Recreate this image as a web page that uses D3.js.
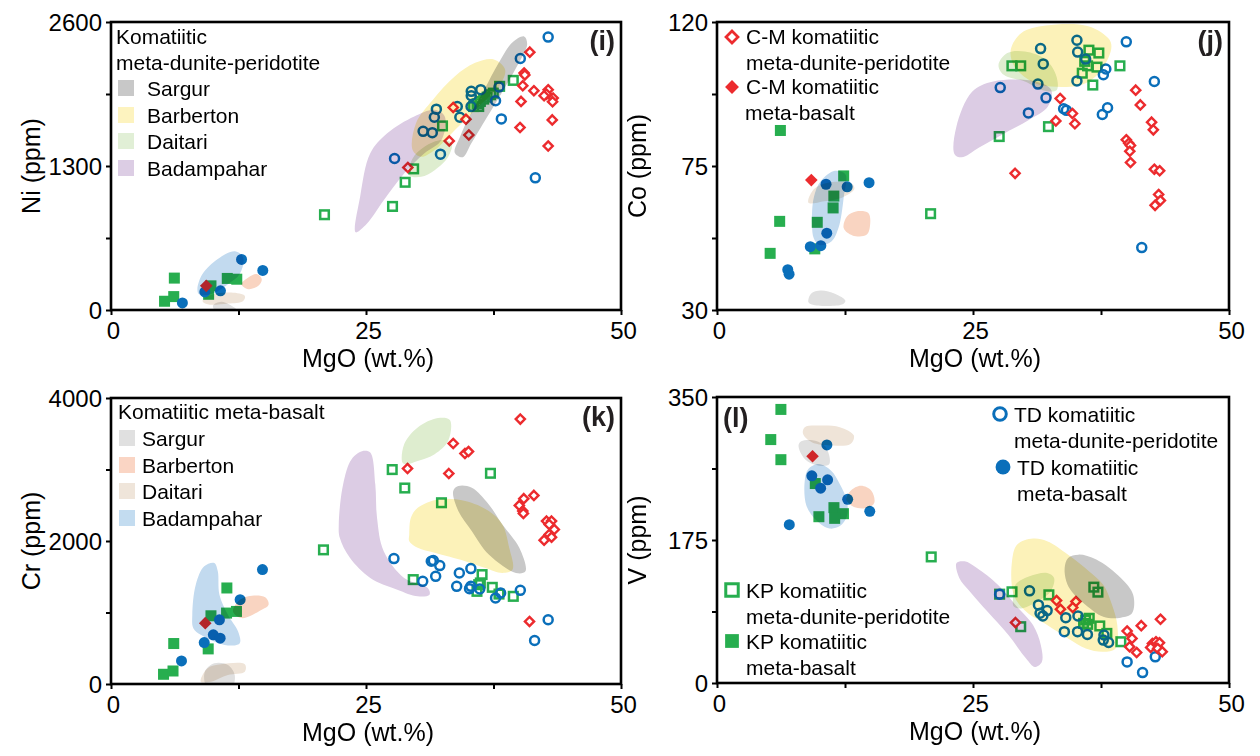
<!DOCTYPE html>
<html><head><meta charset="utf-8">
<script src="https://cdn.jsdelivr.net/npm/d3@7"></script>
<style>
body{margin:0;background:#fff}
svg{display:block}
text{font-family:Arial,"Liberation Sans",Helvetica,sans-serif;fill:#000}
</style>
</head><body>
<svg id="chart" width="1260" height="756"></svg>
<script>
// ---------------- DATA ----------------
const mgoTicks = [0, 12.5, 25, 37.5, 50];
const mgoLabels = ["0", "", "25", "", "50"];
const niTicks = [0, 650, 1300, 1950, 2600];
const coTicks = [30, 52.5, 75, 97.5, 120];
const crTicks = [0, 1000, 2000, 3000, 4000];
const vTicks = [0, 87.5, 175, 262.5, 350];
const seriesNames = ["C-M komatiitic meta-dunite-peridotite","C-M komatiitic meta-basalt","TD komatiitic meta-dunite-peridotite","TD komatiitic meta-basalt","KP komatiitic meta-dunite-peridotite","KP komatiitic meta-basalt"];
const fieldNames = ["Sargur","Barberton","Daitari","Badampahar"];

// Panel (i) Ni
const niCmDun = [[41.06,2328],[40.5,2140],[40.57,2122],[40.37,2025],[41.46,1980],[40.2,1883],[42.86,1989],[42.7,1949],[42.46,1934],[43.35,1913],[43.29,1880],[43.26,1716],[40.1,1647],[42.86,1480],[34.8,1722],[35.08,1580],[33.16,1526],[33.55,1828],[29.1,1286]];
const niCmBas = [[9.34,218]];
const niTdDun = [[42.86,2464],[40.13,2270],[38.04,2013],[37.7,1889],[38.27,1725],[35.3,1837],[35.32,1974],[35.32,1934],[36.25,1989],[33.95,1837],[34.2,1740],[31.9,1813],[31.7,1740],[30.6,1613],[31.5,1601],[32.3,1407],[27.8,1368],[41.6,1193]];
const niTdBas = [[12.8,457],[14.88,357],[7.0,64],[9.2,163],[10.73,173]];
const niKpDun = [[39.44,2073],[38.1,2019],[32.5,1662],[29.67,1274],[28.84,1153],[27.6,935],[20.93,860],[35.55,1837],[35.88,1862],[36.21,1883],[36.54,1904],[36.88,1922],[37.21,1943],[37.48,1958],[36.05,1837]];
const niKpBas = [[6.21,288],[5.25,79],[6.15,121],[9.8,218],[9.57,142],[11.4,285],[12.33,278]];
const niSargurUM = [[33.7,1420],[34.2,1560],[35.2,1760],[36.6,1990],[38.0,2230],[39.4,2420],[40.5,2470],[40.8,2400],[39.8,2200],[38.3,1960],[36.8,1730],[35.3,1500],[34.5,1380]];
const niBarbertonUM = [[29.57,1444],[29.9,1686],[31.56,1898],[33.72,2110],[35.7,2231],[37.54,2261],[38.64,2170],[38.04,2019],[36.05,1837],[33.72,1625],[31.73,1444],[30.4,1383]];
const niDaitariUM = [[29.24,1217],[29.57,1368],[30.73,1474],[32.4,1535],[33.4,1504],[33.06,1383],[31.73,1262],[30.4,1202]];
const niBadampaharUM = [[23.99,702],[24.42,1020],[25.42,1414],[27.08,1595],[29.73,1747],[31.73,1807],[32.72,1747],[32.4,1535],[30.73,1414],[28.74,1232],[26.74,990],[25.08,778]];
const niSargurMB = [[10.0,40],[10.8,75],[11.6,50],[12.3,0],[11.8,-40],[10.5,-40]];
const niBarbertonMB = [[12.79,233],[13.46,294],[14.29,324],[14.78,278],[14.45,218],[13.46,188]];
const niDaitariMB = [[8.97,82],[9.8,136],[11.79,157],[13.12,127],[12.96,82],[11.46,58],[9.47,51]];
const niBadampaharMB = [[8.47,188],[8.97,324],[10.47,460],[12.13,530],[12.96,475],[12.62,324],[11.46,233],[9.8,142],[8.64,142]];

// Panel (j) Co
const coCmDun = [[40.89,98.7],[41.34,94.1],[42.44,88.7],[42.61,86.3],[39.97,83.2],[40.21,82.1],[40.38,81.4],[40.31,79.6],[40.38,76.1],[42.71,74.0],[43.23,73.5],[43.13,66.1],[43.3,64.2],[42.78,62.7],[33.51,96.1],[34.71,91.4],[34.95,88.2],[33.09,89.1],[29.11,72.7]];
const coCmBas = [[9.21,70.6]];
const coTdDun = [[39.97,113.8],[42.71,101.4],[37.73,103.5],[37.97,105.3],[38.14,93.2],[37.63,91.1],[41.48,49.5],[33.85,92.9],[34.12,92.4],[32.13,96.3],[30.41,91.6],[27.66,99.5],[35.15,114.3],[35.22,110.6],[36.0,108.4],[35.15,101.6],[31.6,111.7],[31.86,106.9],[31.34,100.6]];
const coTdBas = [[14.85,69.8],[10.65,69.3],[12.71,68.5],[10.72,54.0],[9.11,49.8],[10.14,50.1],[6.91,42.6],[7.04,41.2]];
const coKpDun = [[39.35,106.3],[36.32,111.2],[37.29,110.3],[35.91,107.7],[36.19,106.3],[37.11,105.9],[35.67,104.0],[36.7,100.3],[28.8,106.3],[29.66,106.3],[32.37,87.3],[27.56,84.2],[20.86,60.1]];
const coKpBas = [[6.19,86.1],[6.12,57.7],[5.19,47.7],[12.37,71.9],[11.41,65.6],[11.34,61.9],[9.79,57.4],[9.55,49.1]];
const coBarbertonUM = [[28.69,111.4],[29.73,116.6],[32.13,118.9],[36.25,118.7],[38.32,114.5],[38.49,111.4],[37.29,104.0],[35.57,100.3],[33.16,99.8],[31.1,100.8],[29.04,106.1]];
const coDaitariUM = [[27.49,106.6],[28.35,110.3],[30.07,110.8],[32.13,108.2],[33.16,102.9],[33.16,98.7],[31.79,98.7],[30.07,101.4],[28.0,103.5]];
const coBadampaharUM = [[23.2,78.7],[23.37,87.2],[24.91,98.2],[26.98,101.4],[31.1,101.4],[32.65,98.7],[32.3,93.5],[30.41,89.3],[28.0,85.1],[25.6,80.8],[23.88,77.7]];
const coSargurMB = [[8.93,32.4],[9.18,35.1],[10.14,36.1],[11.51,35.1],[12.54,32.9],[12.2,31.7],[9.45,31.6]];
const coBarbertonMB = [[12.37,55.6],[12.71,59.3],[13.57,60.8],[14.78,60.3],[14.95,56.6],[14.6,53.5],[13.23,53.3]];
const coDaitariMB = [[8.93,63.5],[9.45,67.7],[10.82,69.8],[13.23,69.3],[13.4,67.7],[12.2,65.1],[10.48,64.0]];
const coBadampaharMB = [[9.28,56.6],[9.45,65.1],[10.14,70.3],[11.51,73.5],[12.54,72.4],[12.37,65.1],[11.86,55.6],[11.17,51.4],[9.97,50.3],[9.45,52.4]];

// Panel (k) Cr
const crCmDun = [[40.13,3705],[33.55,3364],[34.7,3223],[35.05,3251],[33.12,2943],[29.07,3013],[41.46,2638],[40.47,2592],[40.03,2498],[40.37,2419],[40.43,2386],[42.7,2278],[43.19,2278],[42.96,2231],[43.46,2161],[42.96,2091],[43.19,2054],[42.46,2012],[41.03,875]];
const crCmBas = [[9.24,851]];
const crTdDun = [[27.74,1754],[31.4,1717],[31.6,1727],[32.23,1656],[31.83,1506],[34.15,1553],[35.28,1614],[33.89,1366],[35.15,1333],[35.28,1366],[36.15,1328],[37.7,1202],[38.2,1272],[40.13,1310],[42.86,898],[41.53,608],[30.56,1436]];
const crTdBas = [[14.85,1600],[12.66,1179],[10.63,898],[10.03,688],[10.7,641],[9.14,580],[6.91,323]];
const crKpDun = [[27.57,2999],[28.8,2741],[37.2,2947],[32.4,2535],[20.83,1876],[29.63,1460],[36.38,1530],[36.21,1413],[36.05,1389],[35.88,1296],[37.38,1352],[38.04,1258],[39.44,1226]];
const crKpBas = [[11.36,1343],[9.8,954],[11.33,992],[12.3,1015],[6.15,566],[9.53,491],[5.15,136],[6.08,182]];
const crSargurUM = [[33.55,2699],[34.05,2769],[35.38,2746],[37.04,2512],[38.37,2231],[40.03,1904],[40.63,1576],[39.7,1553],[37.04,1810],[35.38,2138],[34.05,2419]];
const crBarbertonUM = [[29.24,2091],[29.4,2325],[30.07,2465],[32.06,2582],[34.72,2559],[37.04,2419],[38.37,2231],[39.04,1904],[39.37,1600],[38.37,1553],[36.71,1623],[34.72,1717],[31.73,1834],[30.07,1904],[29.24,1997]];
const crDaitariUM = [[28.57,3097],[28.74,3354],[30.07,3588],[32.06,3719],[33.22,3691],[33.06,3401],[31.73,3214],[30.07,3120],[28.9,3073]];
const crBadampaharUM = [[22.33,2231],[22.76,2793],[23.59,3144],[24.75,3261],[25.42,3237],[25.91,2793],[26.08,2325],[26.74,1857],[28.74,1483],[31.06,1343],[31.23,1249],[30.07,1226],[28.07,1319],[25.42,1483],[23.42,1764],[22.43,2044]];
const crSargurMB = [[9.2,173],[10.13,290],[11.46,267],[12.13,126],[11.79,-60],[9.47,-60]];
const crBarbertonMB = [[11.96,1015],[12.46,1155],[13.46,1226],[15.12,1212],[15.45,1109],[14.78,1039],[12.79,922]];
const crDaitariMB = [[8.8,33],[9.47,220],[10.8,276],[13.12,276],[13.12,173],[11.46,126],[9.8,33]];
const crBadampaharMB = [[7.97,968],[8.31,1389],[9.14,1647],[10.13,1693],[10.47,1576],[10.63,1249],[11.46,968],[12.46,734],[12.62,571],[11.46,538],[10.13,594],[8.8,688],[8.07,781]];

// Panel (l) V
const vCmDun = [[33.16,100.9],[35.05,99.7],[33.54,90.3],[34.74,92.3],[29.15,73.9],[40.05,63.6],[40.53,54.6],[41.43,70.2],[43.31,78.0],[40.29,44.3],[40.98,37.3],[42.52,48.4],[42.87,50.5],[43.21,49.2],[42.35,43.5],[43.04,42.3],[43.48,38.2]];
const vCmBas = [[9.33,277.4]];
const vTdDun = [[27.6,108.7],[30.52,112.8],[31.39,95.6],[31.55,85.3],[32.24,88.6],[31.82,82.1],[34.06,80.0],[35.25,82.1],[33.92,62.8],[35.21,62.8],[36.17,59.5],[37.72,52.5],[38.24,49.6],[37.79,58.7],[40.05,25.8],[42.8,32.0],[41.56,12.7]];
const vTdBas = [[10.73,291.3],[9.26,253.6],[10.8,248.6],[10.12,238.4],[12.76,224.8],[14.92,210.1],[7.06,193.7]];
const vKpDun = [[20.92,154.3],[27.6,108.7],[28.81,111.6],[32.41,107.9],[29.66,68.9],[36.8,117.3],[37.2,111.2],[36.0,77.1],[36.35,79.2],[35.8,73.0],[36.2,71.8],[37.38,69.8],[38.07,60.7],[39.44,50.5]];
const vKpBas = [[6.24,334.8],[5.25,297.9],[6.24,273.3],[9.6,244.1],[11.42,214.6],[12.35,207.2],[9.95,203.5],[11.49,201.5]];
const vSargurUM = [[33.95,140.7],[34.29,153.0],[35.32,157.1],[37.04,151.0],[39.44,128.4],[40.64,107.9],[40.53,85.3],[39.44,80.0],[37.72,81.2],[36.01,95.6],[34.64,112.0],[34.12,124.3]];
const vBarbertonUM = [[28.81,148.9],[29.32,169.5],[30.86,176.8],[32.24,173.6],[34.29,157.1],[36.35,136.6],[37.72,120.2],[38.58,95.6],[39.09,71.0],[38.92,42.3],[37.72,38.2],[36.01,42.3],[34.29,54.6],[32.24,71.0],[30.18,87.4],[28.98,107.9]];
const vDaitariUM = [[28.91,103.8],[29.15,120.2],[30.52,130.5],[32.24,134.6],[32.92,128.4],[32.58,112.0],[31.55,101.8],[29.84,91.5],[28.98,93.5]];
const vBadampaharUM = [[23.39,146.9],[24.18,148.9],[25.38,140.7],[27.43,120.2],[29.15,95.6],[30.86,71.0],[31.62,46.4],[31.72,25.8],[31.04,19.7],[30.18,30.0],[28.46,58.7],[26.41,87.4],[24.69,112.0],[23.66,128.4]];
const vSargurMB = [[7.96,290.5],[8.23,295.8],[9.6,296.6],[10.63,288.4],[10.97,267.9],[9.95,265.9],[8.57,274.1]];
const vBarbertonMB = [[12.62,224.8],[13.03,235.1],[14.06,241.3],[15.09,235.1],[15.36,220.7],[14.75,214.6],[13.37,215.4]];
const vDaitariMB = [[8.4,304.9],[8.57,313.1],[10.29,315.1],[12.0,313.1],[13.37,302.8],[13.03,292.5],[11.32,290.5],[9.26,294.6]];
const vBadampaharMB = [[8.57,247.4],[8.92,261.8],[9.95,267.9],[11.15,259.7],[12.0,243.3],[12.69,222.8],[12.69,204.3],[12.0,192.0],[10.97,189.1],[9.77,198.2],[8.74,216.6]];

// ---------------- STYLE ----------------
const RED = "#ec2b2e", BLUE = "#0a6fba", GREEN = "#27ae4f";
const UMcol = {Sargur:"#c8c8c8", Barberton:"#fcf2b9", Daitari:"#deedcf", Badampahar:"#dccce4"};
const MBcol = {Sargur:"#e0e0e0", Barberton:"#f9d4c1", Daitari:"#efe4d8", Badampahar:"#c2daef"};
const legUM = {Sargur:"#c8c8c8", Barberton:"#fdf3bf", Daitari:"#e1efd6", Badampahar:"#dccde4"};
const legMB = {Sargur:"#e0e0e0", Barberton:"#fad5c4", Daitari:"#efe5da", Badampahar:"#c3dcf0"};

const svg = d3.select("#chart");

const panels = [
  {id:"i", label:"(i)", yTitle:"Ni (ppm)", x0:111,x1:621,y0:22,y1:310, ydom:[0,2600], yt:niTicks, ylab:["0","","1300","","2600"],
   series:[niCmDun,niCmBas,niTdDun,niTdBas,niKpDun,niKpBas],
   um:[niSargurUM,niBarbertonUM,niDaitariUM,niBadampaharUM], mb:[niSargurMB,niBarbertonMB,niDaitariMB,niBadampaharMB], labelPos:"right"},
  {id:"j", label:"(j)", yTitle:"Co (ppm)", x0:717,x1:1229,y0:22,y1:310, ydom:[30,120], yt:coTicks, ylab:["30","","75","","120"],
   series:[coCmDun,coCmBas,coTdDun,coTdBas,coKpDun,coKpBas],
   um:[null,coBarbertonUM,coDaitariUM,coBadampaharUM], mb:[coSargurMB,coBarbertonMB,coDaitariMB,coBadampaharMB], labelPos:"right"},
  {id:"k", label:"(k)", yTitle:"Cr (ppm)", x0:111,x1:621,y0:398,y1:684, ydom:[0,4000], yt:crTicks, ylab:["0","","2000","","4000"],
   series:[crCmDun,crCmBas,crTdDun,crTdBas,crKpDun,crKpBas],
   um:[crSargurUM,crBarbertonUM,crDaitariUM,crBadampaharUM], mb:[crSargurMB,crBarbertonMB,crDaitariMB,crBadampaharMB], labelPos:"right"},
  {id:"l", label:"(l)", yTitle:"V (ppm)", x0:717,x1:1229,y0:397,y1:683, ydom:[0,350], yt:vTicks, ylab:["0","","175","","350"],
   series:[vCmDun,vCmBas,vTdDun,vTdBas,vKpDun,vKpBas],
   um:[vSargurUM,vBarbertonUM,vDaitariUM,vBadampaharUM], mb:[vSargurMB,vBarbertonMB,vDaitariMB,vBadampaharMB], labelPos:"left"}
];

const diamondPath = (h) => `M0,${-h}L${h},0L0,${h}L${-h},0Z`;

function drawMarker(g, kind, x, y, scale) {
  const s = scale || 1;
  if (kind === 0) { // red open diamond
    g.append("path").attr("d", diamondPath(4.6*s)).attr("transform",`translate(${x},${y})`)
      .attr("fill","#fff").attr("stroke",RED).attr("stroke-width",2.4*Math.sqrt(s));
  } else if (kind === 1) { // red filled diamond
    g.append("path").attr("d", diamondPath(6.3*s)).attr("transform",`translate(${x},${y})`).attr("fill",RED);
  } else if (kind === 2) { // blue open circle
    g.append("circle").attr("cx",x).attr("cy",y).attr("r",4.5*s).attr("fill","none").attr("stroke",BLUE).attr("stroke-width",2.5*Math.sqrt(s));
  } else if (kind === 3) {
    g.append("circle").attr("cx",x).attr("cy",y).attr("r",5.5*s).attr("fill",BLUE);
  } else if (kind === 4) {
    const a = 8.6*s;
    g.append("rect").attr("x",x-a/2).attr("y",y-a/2).attr("width",a).attr("height",a).attr("fill","none").attr("stroke",GREEN).attr("stroke-width",2.5*Math.sqrt(s));
  } else {
    const a = 11*s;
    g.append("rect").attr("x",x-a/2).attr("y",y-a/2).attr("width",a).attr("height",a).attr("fill",GREEN);
  }
}

panels.forEach(p => {
  const x = d3.scaleLinear().domain([0,50]).range([p.x0,p.x1]);
  const y = d3.scaleLinear().domain(p.ydom).range([p.y1,p.y0]);
  const g = svg.append("g");
  const clipId = "clip-"+p.id;
  svg.append("clipPath").attr("id",clipId).append("rect")
    .attr("x",p.x0).attr("y",p.y0).attr("width",p.x1-p.x0).attr("height",p.y1-p.y0);
  const plot = g.append("g").attr("clip-path",`url(#${clipId})`);

  // markers (drawn first; fields multiply on top)
  const order = [4,2,0,5,3,1];
  order.forEach(k => {
    p.series[k].forEach(d => drawMarker(plot, k, x(d[0]), y(d[1])));
  });

  // fields
  const line = d3.line().x(d=>x(d[0])).y(d=>y(d[1])).curve(d3.curveCatmullRomClosed.alpha(0.5));
  const fg = plot.append("g");
  fieldNames.forEach((n,i) => {
    if (p.mb[i]) fg.append("path").attr("d", line(p.mb[i])).attr("fill",MBcol[n]).style("mix-blend-mode","multiply");
  });
  fieldNames.forEach((n,i) => {
    if (p.um[i]) fg.append("path").attr("d", line(p.um[i])).attr("fill",UMcol[n]).style("mix-blend-mode","multiply");
  });

  // axes
  const ax = d3.axisBottom(x).tickValues(mgoTicks).tickSize(5).tickPadding(5).tickFormat((d,i)=>mgoLabels[i]);
  const gx = g.append("g").attr("transform",`translate(0,${p.y1})`).call(ax);
  const ay = d3.axisLeft(y).tickValues(p.yt).tickSize(5).tickPadding(4).tickFormat((d,i)=>p.ylab[i]);
  const gy = g.append("g").attr("transform",`translate(${p.x0},0)`).call(ay);
  [gx,gy].forEach(a => {
    a.select(".domain").remove();
    a.selectAll(".tick line").attr("stroke","#000").attr("stroke-width",2);
    a.selectAll(".tick text").attr("font-size",24).attr("font-family","Arial, 'Liberation Sans', sans-serif").attr("fill","#000");
  });
  gx.selectAll(".tick text").attr("dy","0.8em").attr("dx",2);
  gy.selectAll(".tick text").attr("dy","0.35em");

  // frame
  g.append("rect").attr("x",p.x0).attr("y",p.y0).attr("width",p.x1-p.x0).attr("height",p.y1-p.y0)
    .attr("fill","none").attr("stroke","#000").attr("stroke-width",2.6);

  // titles
  g.append("text").attr("x",(p.x0+p.x1)/2+2).attr("y",p.y1+57).attr("text-anchor","middle")
    .attr("font-size",25).text("MgO (wt.%)");
  g.append("text").attr("transform",`translate(${p.x0-71},${(p.y0+p.y1)/2}) rotate(-90)`)
    .attr("text-anchor","middle").attr("font-size",25).text(p.yTitle);

  // panel label
  if (p.labelPos === "right") {
    g.append("text").attr("x",p.x1-6).attr("y",p.y0+28).attr("text-anchor","end")
      .attr("font-size",27).attr("font-weight","bold").style("fill","#231f20").text(p.label);
  } else {
    g.append("text").attr("x",p.x0+6).attr("y",p.y0+30).attr("text-anchor","start")
      .attr("font-size",27).attr("font-weight","bold").style("fill","#231f20").text(p.label);
  }
});

// ---------------- LEGENDS ----------------
// (i) field legend
{
  const g = svg.append("g");
  g.append("text").attr("x",116).attr("y",44).attr("font-size",21).text("Komatiitic");
  g.append("text").attr("x",116).attr("y",70).attr("font-size",21).text("meta-dunite-peridotite");
  const rows = [88,115,141,168];
  fieldNames.forEach((n,i)=>{
    g.append("rect").attr("x",118).attr("y",rows[i]-8).attr("width",16).attr("height",16).attr("fill",legUM[n]);
    g.append("text").attr("x",147).attr("y",rows[i]+8).attr("font-size",21).text(n);
  });
}
// (k) field legend
{
  const g = svg.append("g");
  g.append("text").attr("x",118).attr("y",419).attr("font-size",21).text("Komatiitic meta-basalt");
  const rows = [438,465,491,518];
  fieldNames.forEach((n,i)=>{
    g.append("rect").attr("x",119).attr("y",rows[i]-8).attr("width",16).attr("height",16).attr("fill",legMB[n]);
    g.append("text").attr("x",142).attr("y",rows[i]+8).attr("font-size",21).text(n);
  });
}
// (j) C-M legend
{
  const g = svg.append("g");
  drawMarker(g,0,732,37,1.3);
  g.append("text").attr("x",746).attr("y",44).attr("font-size",21).text("C-M komatiitic");
  g.append("text").attr("x",746).attr("y",70).attr("font-size",21).text("meta-dunite-peridotite");
  drawMarker(g,1,732,87,1.1);
  g.append("text").attr("x",746).attr("y",94).attr("font-size",21).text("C-M komatiitic");
  g.append("text").attr("x",745).attr("y",120).attr("font-size",21).text("meta-basalt");
}
// (l) TD and KP legends
{
  const g = svg.append("g");
  drawMarker(g,2,1000,414,1.4);
  g.append("text").attr("x",1014).attr("y",422).attr("font-size",21).text("TD komatiitic");
  g.append("text").attr("x",1014).attr("y",448).attr("font-size",21).text("meta-dunite-peridotite");
  drawMarker(g,3,1003,467,1.35);
  g.append("text").attr("x",1017).attr("y",475).attr("font-size",21).text("TD komatiitic");
  g.append("text").attr("x",1017).attr("y",501).attr("font-size",21).text("meta-basalt");
  drawMarker(g,4,732,590,1.45);
  g.append("text").attr("x",746).attr("y",598).attr("font-size",21).text("KP komatiitic");
  g.append("text").attr("x",746).attr("y",624).attr("font-size",21).text("meta-dunite-peridotite");
  drawMarker(g,5,732,641,1.25);
  g.append("text").attr("x",746).attr("y",649).attr("font-size",21).text("KP komatiitic");
  g.append("text").attr("x",746).attr("y",675).attr("font-size",21).text("meta-basalt");
}
</script>
</body></html>
